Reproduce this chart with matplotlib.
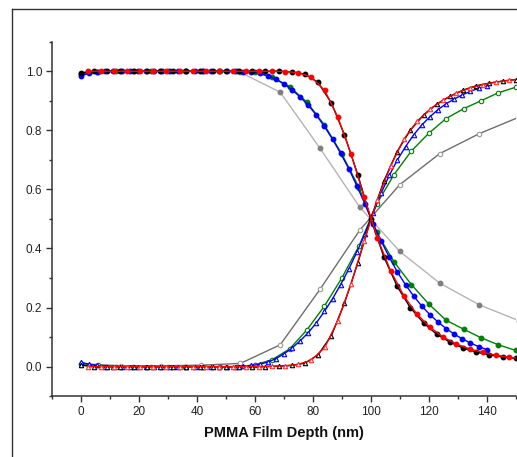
import matplotlib
matplotlib.use("Agg")
import matplotlib.pyplot as plt
from matplotlib.lines import Line2D
from matplotlib.ticker import MultipleLocator

plt.rcParams['font.family'] = ['Liberation Sans', 'DejaVu Sans']

# ---- depth grids (nm) ----
x_black = [0.0, 4.5, 9.1, 13.6, 18.2, 22.7, 27.3, 31.8, 36.4, 40.9, 45.5, 50.0,
           54.5, 59.1, 63.6, 68.2, 72.7, 77.3, 81.8, 86.4, 90.9, 95.5, 100.0,
           104.5, 109.1, 113.6, 118.2, 122.7, 127.3, 131.8, 136.4, 140.9, 145.5, 150.0]
x_red = [2.3, 6.8, 11.4, 15.9, 20.5, 25.0, 29.5, 34.1, 38.6, 43.2, 47.7, 52.3,
         56.8, 61.4, 65.9, 70.5, 75.0, 79.5, 84.1, 88.6, 93.2, 97.7, 102.3,
         106.8, 111.4, 115.9, 120.5, 125.0, 129.5, 134.1, 138.6, 143.2, 147.7, 152.3]
x_blue = [0.0, 2.8, 5.6, 8.4, 11.2, 14.0, 16.8, 19.6, 22.4, 25.2, 28.0, 30.8,
          33.6, 36.4, 39.2, 42.0, 44.8, 47.6, 50.4, 53.2, 56.0, 58.8, 61.6, 64.4,
          67.2, 70.0, 72.8, 75.6, 78.4, 81.2, 84.0, 86.8, 89.6, 92.4, 95.2, 98.0,
          100.8, 103.6, 106.4, 109.2, 112.0, 114.8, 117.6, 120.4, 123.2, 126.0,
          128.8, 131.6, 134.4, 137.2, 140.0]
x_green = [0, 6, 12, 18, 24, 30, 36, 42, 48, 54, 60, 66, 72, 78, 84, 90, 96,
           102, 108, 114, 120, 126, 132, 138, 144, 150]
x_gray = [0.0, 13.75, 27.5, 41.25, 55.0, 68.75, 82.5, 96.25, 110.0, 123.75,
          137.5, 151.25]

# ---- decreasing profiles (filled markers) ----
black_dec = [0.995, 1.0, 1.0, 1.0, 1.0, 1.0, 1.0, 1.0, 1.0, 1.0, 1.0, 1.0,
             1.0, 1.0, 1.0, 1.0, 0.998, 0.99, 0.962, 0.893, 0.785, 0.65, 0.5,
             0.372, 0.272, 0.2, 0.148, 0.11, 0.083, 0.063, 0.049, 0.04, 0.033, 0.028]
red_dec = [1.0, 1.0, 1.0, 1.0, 1.0, 1.0, 1.0, 1.0, 1.0, 1.0, 1.0, 1.0,
           1.0, 1.0, 1.0, 0.999, 0.995, 0.98, 0.935, 0.845, 0.72, 0.575, 0.435,
           0.325, 0.24, 0.178, 0.133, 0.1, 0.077, 0.06, 0.048, 0.039, 0.032, 0.027]
blue_dec = [0.985, 0.993, 0.997, 1.0, 1.0, 1.0, 1.0, 1.0, 1.0, 1.0, 1.0, 1.0,
            1.0, 1.0, 1.0, 1.0, 1.0, 1.0, 1.0, 1.0, 0.999, 0.997, 0.993, 0.985,
            0.973, 0.957, 0.937, 0.913, 0.885, 0.852, 0.813, 0.77, 0.722, 0.67,
            0.612, 0.55, 0.484, 0.425, 0.37, 0.32, 0.277, 0.239, 0.205, 0.176,
            0.151, 0.129, 0.11, 0.094, 0.08, 0.068, 0.058]
green_dec = [0.99, 0.997, 1.0, 1.0, 1.0, 1.0, 1.0, 1.0, 1.0, 1.0, 0.996, 0.98,
             0.948, 0.895, 0.818, 0.72, 0.605, 0.455, 0.355, 0.278, 0.212,
             0.157, 0.127, 0.098, 0.074, 0.055]
gray_dec = [0.99, 1.0, 1.0, 1.0, 0.996, 0.929, 0.739, 0.539, 0.39, 0.283,
            0.209, 0.155]

# ---- increasing profiles (open markers) ----
black_inc = [0.005, 0.0, 0.0, 0.0, 0.0, 0.0, 0.0, 0.0, 0.0, 0.0, 0.0, 0.0,
             0.0, 0.0, 0.0, 0.002, 0.004, 0.012, 0.04, 0.105, 0.215, 0.35, 0.5,
             0.628, 0.728, 0.8, 0.852, 0.888, 0.915, 0.936, 0.951, 0.96, 0.967, 0.972]
red_inc = [0.0, 0.0, 0.0, 0.0, 0.0, 0.0, 0.0, 0.0, 0.0, 0.0, 0.0, 0.0,
           0.0, 0.0, 0.001, 0.003, 0.008, 0.022, 0.065, 0.155, 0.28, 0.425, 0.565,
           0.68, 0.77, 0.83, 0.872, 0.903, 0.926, 0.943, 0.955, 0.963, 0.969, 0.974]
blue_inc = [0.015, 0.008, 0.004, 0.0, 0.0, 0.0, 0.0, 0.0, 0.0, 0.0, 0.0, 0.0,
            0.0, 0.0, 0.0, 0.0, 0.0, 0.0, 0.0, 0.0, 0.002, 0.004, 0.008, 0.015,
            0.027, 0.043, 0.063, 0.087, 0.115, 0.148, 0.187, 0.23, 0.278, 0.33,
            0.388, 0.45, 0.52, 0.588, 0.648, 0.70, 0.745, 0.785, 0.818, 0.846,
            0.87, 0.89, 0.906, 0.92, 0.932, 0.942, 0.95]
green_inc = [0.01, 0.005, 0.0, 0.0, 0.0, 0.0, 0.0, 0.0, 0.0, 0.0, 0.006, 0.024,
             0.06, 0.125, 0.205, 0.3, 0.41, 0.55, 0.65, 0.73, 0.79, 0.84,
             0.873, 0.9, 0.927, 0.946]
gray_inc = [0.01, 0.003, 0.003, 0.005, 0.011, 0.074, 0.262, 0.463, 0.616,
            0.721, 0.789, 0.845]

# ---- figure ----
W, H = 517, 457
fig = plt.figure(figsize=(W / 100, H / 100), dpi=100)
ax = fig.add_axes([52.0 / W, (H - 396.2) / H, 463.7 / W, 354.5 / H])

ms = 3.2
lw = 1.0

# gray pair
ax.plot(x_gray, gray_dec, color='#b4b4b4', lw=lw, marker='o', ms=ms,
        mfc='#7f7f7f', mec='#7f7f7f', zorder=2)
ax.plot(x_gray, gray_inc, color='#6e6e6e', lw=lw, marker='o', ms=ms,
        mfc='white', mec='#9a9a9a', mew=0.8, zorder=2)

# green pair
ax.plot(x_green, green_dec, color='#008000', lw=lw, marker='o', ms=ms,
        mfc='#008000', mec='#008000', zorder=3)
ax.plot(x_green, green_inc, color='#008000', lw=lw, marker='o', ms=ms,
        mfc='white', mec='#008000', mew=0.8, zorder=3)

# blue pair
ax.plot(x_blue, blue_dec, color='#0000ff', lw=lw, marker='o', ms=ms,
        mfc='#0000ff', mec='#0000ff', zorder=4)
ax.plot(x_blue, blue_inc, color='#0000ff', lw=lw, marker='^', ms=ms,
        mfc='white', mec='#0000ff', mew=0.8, zorder=4)

# black pair
ax.plot(x_black, black_dec, color='black', lw=lw, marker='o', ms=ms,
        mfc='black', mec='black', zorder=5)
ax.plot(x_black, black_inc, color='black', lw=lw, marker='^', ms=ms,
        mfc='white', mec='black', mew=0.8, zorder=5)

# red pair
ax.plot(x_red, red_dec, color='#ff0000', lw=lw, marker='o', ms=ms,
        mfc='#ff0000', mec='#ff0000', zorder=6)
ax.plot(x_red, red_inc, color='#ff0000', lw=lw, marker='^', ms=ms,
        mfc='white', mec='#ff3030', mew=0.8, zorder=6)

ax.set_xlim(-10, 150)
ax.set_ylim(-0.1, 1.1)

for side in ('top', 'right'):
    ax.spines[side].set_visible(False)
for side in ('left', 'bottom'):
    ax.spines[side].set_color('#333333')
    ax.spines[side].set_linewidth(1.1)

ax.xaxis.set_major_locator(MultipleLocator(20))
ax.xaxis.set_minor_locator(MultipleLocator(10))
ax.yaxis.set_major_locator(MultipleLocator(0.2))
ax.yaxis.set_minor_locator(MultipleLocator(0.1))
ax.set_xticks([0, 20, 40, 60, 80, 100, 120, 140])
ax.set_yticks([0.0, 0.2, 0.4, 0.6, 0.8, 1.0])
ax.yaxis.set_major_formatter(matplotlib.ticker.FormatStrFormatter('%.1f'))

ax.tick_params(which='major', direction='out', length=4.0, width=1.0,
               color='#333333', labelsize=8.5, labelcolor='#222222', pad=3)
ax.tick_params(which='minor', direction='out', length=2.4, width=1.0,
               color='#333333')

ax.set_xlabel('PMMA Film Depth (nm)', fontsize=10.5, fontweight='bold',
              color='#111111', labelpad=6)

# outer frame (top and left edges)
fig.add_artist(Line2D([11.5 / W, 1.0], [(H - 9) / H, (H - 9) / H],
                      transform=fig.transFigure, color='#333333', lw=1.0))
fig.add_artist(Line2D([11.5 / W, 11.5 / W], [0.0, (H - 9) / H],
                      transform=fig.transFigure, color='#333333', lw=1.0))

fig.savefig('out.png', dpi=100)
